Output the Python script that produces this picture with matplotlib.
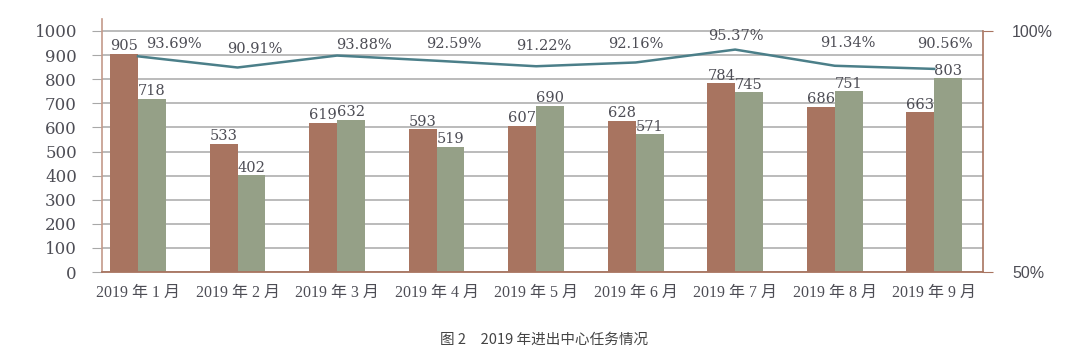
import numpy as np
import matplotlib.pyplot as plt

months = ['2019 年 1 月', '2019 年 2 月', '2019 年 3 月', '2019 年 4 月', '2019 年 5 月',
          '2019 年 6 月', '2019 年 7 月', '2019 年 8 月', '2019 年 9 月']
series_a = [905, 533, 619, 593, 607, 628, 784, 686, 663]
series_b = [718, 402, 632, 519, 690, 571, 745, 751, 803]
rate = [93.69, 90.91, 93.88, 92.59, 91.22, 92.16, 95.37, 91.34, 90.56]

# label nudges (pixels) for the percentage labels, as placed in the original
pct_dx = [36, 17, 27, 17, 8, 0, 1, 13, 11]
pct_dy = [12, 18, 11, 17, 20, 18, 14, 23, 25]

brown = '#a87460'
green = '#95a087'
teal = '#4b7f89'
txt = '#4d4d55'
serif = ['DejaVu Serif', 'Noto Sans CJK SC']

plt.rcParams['font.family'] = serif

fig = plt.figure(figsize=(10.8, 3.57), dpi=100)
ax = fig.add_axes([0.0944, 0.238, 0.8158, 0.709])

x = np.arange(len(months))
w = 0.28
ax.bar(x - w / 2, series_a, w, color=brown, zorder=2)
ax.bar(x + w / 2, series_b, w, color=green, zorder=2)
for xi, a, b in zip(x, series_a, series_b):
    ax.text(xi - w / 2, a + 2, str(a), ha='center', va='bottom', fontsize=10.5, color=txt)
    ax.text(xi + w / 2, b + 2, str(b), ha='center', va='bottom', fontsize=10.5, color=txt)

ax.set_xlim(-0.362, 8.49)
ax.set_ylim(0, 1050)
ax.set_yticks(range(0, 1001, 100))
ax.yaxis.grid(True, color='#a8a8a8', lw=1.1, zorder=0)
ax.set_axisbelow(True)
ax.tick_params(axis='y', length=7, color='#a8a8a8', pad=11, labelsize=12, labelcolor=txt)
ax.set_xticks(x)
ax.set_xticklabels(months, family=['Liberation Serif', 'Noto Sans CJK SC'])
ax.tick_params(axis='x', length=0, pad=9, labelsize=11.5, labelcolor=txt)
for s in ['top', 'right']:
    ax.spines[s].set_visible(False)
ax.spines['left'].set_color('#c49a8a')
ax.spines['bottom'].set_color('#a87460')
ax.spines['left'].set_linewidth(1.2)
ax.spines['bottom'].set_linewidth(1.3)

ax2 = ax.twinx()
ax2.set_ylim(40, 40 + 60 * 1.05)
ax2.plot(x, rate, color=teal, lw=1.8, zorder=3)
for xi, r, dx, dy in zip(x, rate, pct_dx, pct_dy):
    ax2.annotate(f'{r:.2f}%', (xi, r), xytext=(dx, dy), textcoords='offset pixels',
                 ha='center', va='center', fontsize=10.5, color=txt)
ax2.set_yticks([40, 100])
ax2.set_yticklabels(['50%', '100%'], family='Liberation Sans')
ax2.tick_params(axis='y', length=7, color='#a87460', pad=14, labelsize=11.5, labelcolor=txt)
for s in ['top', 'left', 'bottom']:
    ax2.spines[s].set_visible(False)
ax2.spines['right'].set_bounds(40, 100)
ax2.spines['right'].set_color('#a87460')
ax2.spines['right'].set_linewidth(1.2)

fig.text(0.504, 0.048, '图 2\u30002019 年进出中心任务情况', ha='center', va='center',
         fontsize=10.5, color='#444444', family=['Noto Sans CJK SC', 'DejaVu Sans'])

fig.savefig('out.png', dpi=100)
